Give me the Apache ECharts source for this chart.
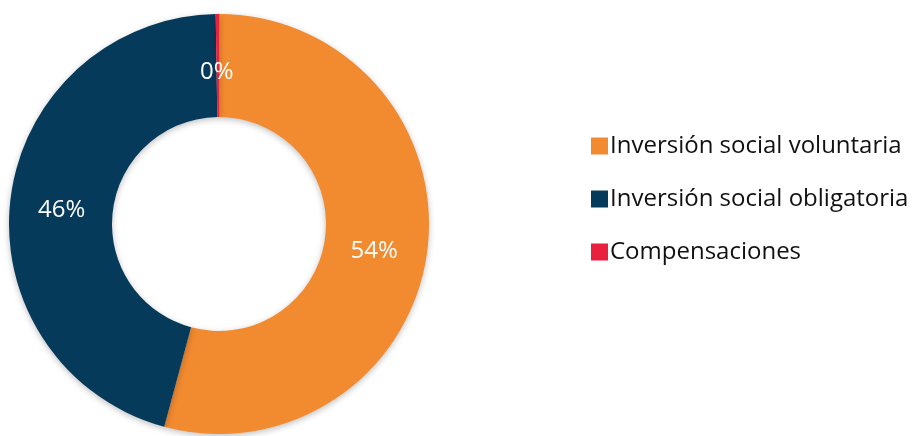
<!DOCTYPE html>
<html>
<head>
<meta charset="utf-8">
<script src="https://cdn.jsdelivr.net/npm/echarts@6/dist/echarts.min.js"></script>
<style>html,body{margin:0;padding:0;background:#fff;}#c{width:919px;height:436px;}</style>
</head>
<body>
<div id="c"></div>
<script>
const categories = ['Inversión social voluntaria', 'Inversión social obligatoria', 'Compensaciones'];
const values = [54.2, 45.55, 0.25];
const labels = ['54%', '46%', '0%'];
const colors = ['#F28A30', '#063A5B', '#E9203E'];

const chart = echarts.init(document.getElementById('c'), null, {renderer: 'canvas'});
const data = categories.map((c, i) => ({name: c, value: values[i], itemStyle: {color: colors[i]}}));
chart.setOption({
  animation: false,
  backgroundColor: '#ffffff',
  legend: {
    orient: 'vertical',
    left: 586,
    top: 129,
    itemWidth: 17,
    itemHeight: 17,
    itemGap: 29,
    icon: 'rect',
    data: categories,
    textStyle: {fontFamily: 'Open Sans', fontSize: 24, color: '#111', lineHeight: 20, padding: [0,0,0,-3]}
  },
  series: [{
    type: 'pie',
    center: [219, 224],
    radius: [107, 210],
    startAngle: 90,
    clockwise: true,
    data: data,
    label: {show: false},
    labelLine: {show: false},
    itemStyle: {borderWidth: 0, shadowBlur: 6, shadowColor: 'rgba(0,0,0,0.25)', shadowOffsetY: 2},
    emphasis: {disabled: true}
  }, {
    type: 'pie',
    center: [218, 230],
    radius: [99, 210],
    startAngle: 90,
    clockwise: true,
    silent: true,
    z: 3,
    data: data.map((d, i) => ({name: d.name, value: d.value, itemStyle: {color: 'rgba(0,0,0,0)'}, label: {formatter: labels[i]}})),
    label: {
      show: true,
      position: 'inside',
      color: '#ffffff',
      fontFamily: 'Open Sans',
      fontSize: 24,
      textBorderWidth: 0
    },
    labelLine: {show: false},
    itemStyle: {borderWidth: 0},
    emphasis: {disabled: true}
  }]
});
</script>
</body>
</html>
